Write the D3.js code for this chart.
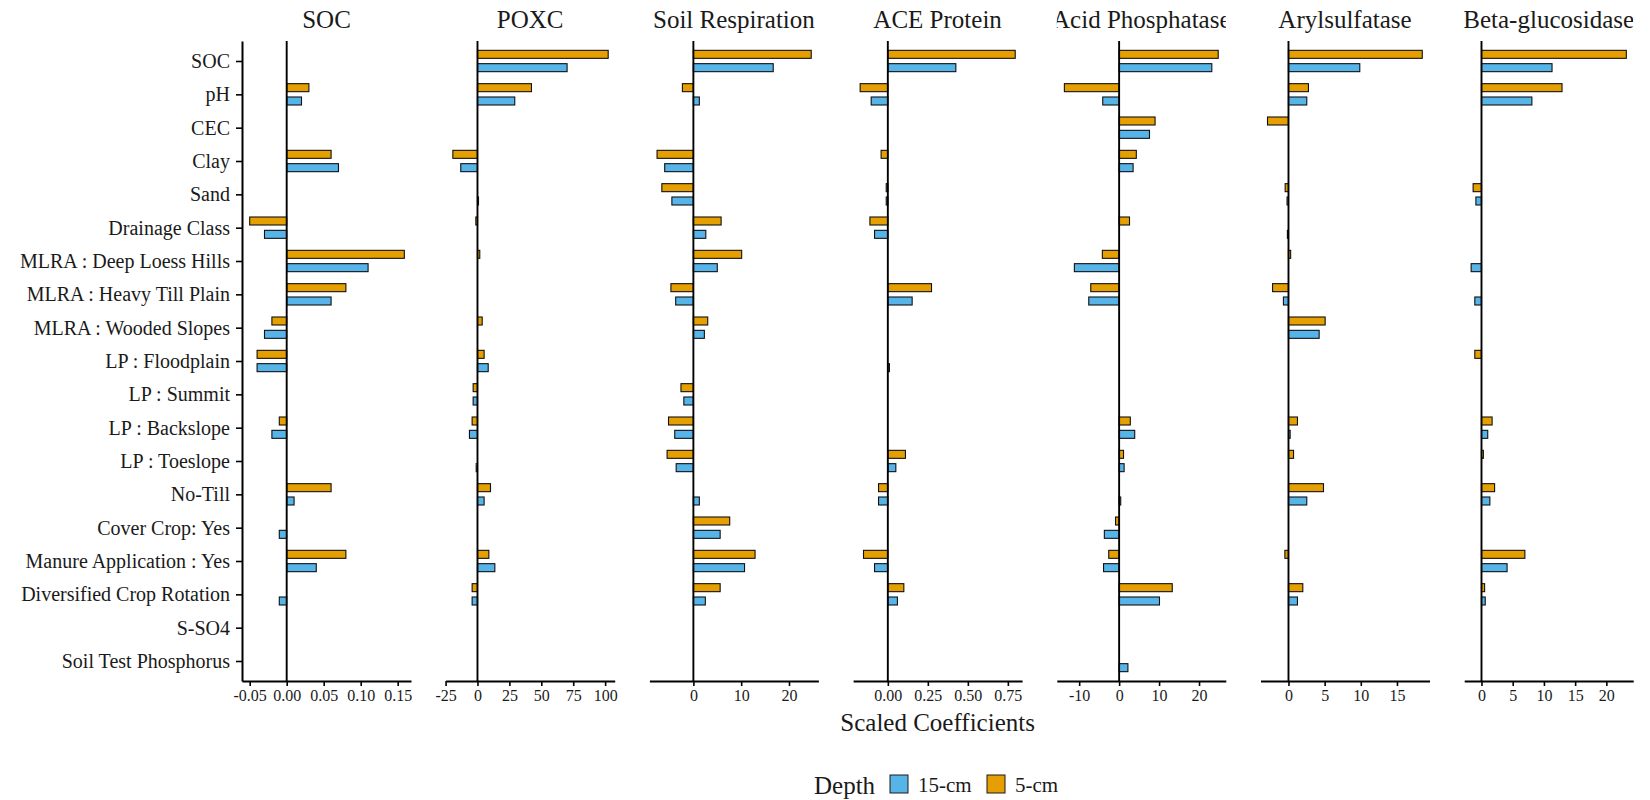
<!DOCTYPE html>
<html>
<head>
<meta charset="utf-8">
<script src="https://cdn.jsdelivr.net/npm/d3@7"></script>
<style>
  body { margin: 0; background: #fff; }
  text { font-family: "Liberation Serif", "Times New Roman", serif; fill: #1a1a1a; }
</style>
</head>
<body>
<svg id="chart" width="1650" height="800"></svg>
<script>
// predictors, top to bottom
var predictors = ["SOC", "pH", "CEC", "Clay", "Sand", "Drainage Class",
  "MLRA : Deep Loess Hills", "MLRA : Heavy Till Plain", "MLRA : Wooded Slopes",
  "LP : Floodplain", "LP : Summit", "LP : Backslope", "LP : Toeslope", "No-Till",
  "Cover Crop: Yes", "Manure Application : Yes", "Diversified Crop Rotation",
  "S-SO4", "Soil Test Phosphorus"];

var responses = ["SOC", "POXC", "Soil Respiration", "ACE Protein", "Acid Phosphatase", "Arylsulfatase", "Beta-glucosidase"];
var depths = ["15-cm", "5-cm"];

// coefficients, one array per response and depth (null = not in model)
var soc5  = [null, 0.03, null, 0.06, null, -0.05, 0.159, 0.08, -0.02, -0.04, null, -0.01, null, 0.06, null, 0.08, null, null, null];
var soc15 = [null, 0.02, null, 0.07, null, -0.03, 0.11, 0.06, -0.03, -0.04, null, -0.02, null, 0.01, -0.01, 0.04, -0.01, null, null];

var poxc5  = [102.4, 42.3, null, -19.3, null, -1.3, 1.8, null, 3.7, 5.2, -3.4, -4.2, null, 10.2, null, 8.9, -4.2, null, null];
var poxc15 = [70.2, 29.2, null, -13.1, 0.8, null, null, null, null, 8.4, -3.4, -6.3, -1, 5.2, null, 13.6, -4.2, null, null];

var resp5  = [24.65, -2.3, null, -7.6, -6.6, 5.8, 10.1, -4.7, 3.0, null, -2.6, -5.2, -5.5, null, 7.6, 12.9, 5.6, null, null];
var resp15 = [16.7, 1.25, null, -6.0, -4.5, 2.6, 5.0, -3.7, 2.3, null, -2.0, -3.9, -3.6, 1.25, 5.6, 10.7, 2.5, null, null];

var ace5  = [0.796, -0.173, null, -0.042, -0.01, -0.112, null, 0.273, null, null, null, null, 0.11, -0.058, null, -0.152, 0.10, null, null];
var ace15 = [0.425, -0.104, null, null, -0.01, -0.083, null, 0.152, null, 0.01, null, null, 0.05, -0.058, null, -0.083, 0.06, null, null];

var acid5  = [24.8, -13.7, 9.0, 4.3, null, 2.6, -4.2, -7.1, null, null, null, 2.8, 1.1, null, -0.9, -2.6, 13.3, null, null];
var acid15 = [23.2, -4.1, 7.6, 3.5, null, null, -11.2, -7.6, null, null, null, 3.9, 1.25, 0.4, -3.7, -3.9, 10.1, null, 2.2];

var aryl5  = [18.5, 2.76, -2.9, null, -0.46, null, 0.3, -2.2, 5.07, null, null, 1.24, 0.7, 4.84, null, -0.5, 1.98, null, null];
var aryl15 = [9.86, 2.53, null, null, -0.2, -0.15, null, -0.7, 4.24, null, null, 0.23, null, 2.53, null, null, 1.24, null, null];

var beta5  = [23.2, 12.9, null, null, -1.34, null, null, null, null, -1.07, null, 1.7, 0.3, 2.1, null, 6.95, 0.5, null, null];
var beta15 = [11.3, 8.07, null, null, -0.9, null, -1.66, -1.07, null, null, null, 1.0, null, 1.34, null, 4.1, 0.6, null, null];

// x tick labels per panel
var socTicks  = [-0.05, 0, 0.05, 0.10, 0.15];
var poxcTicks = [-25, 0, 25, 50, 75, 100];
var respTicks = [0, 10, 20];
var aceTicks  = [0, 0.25, 0.50, 0.75];
var acidTicks = [-10, 0, 10, 20];
var arylTicks = [0, 5, 10, 15];
var betaTicks = [0, 5, 10, 15, 20];

var shallow = [soc5, poxc5, resp5, ace5, acid5, aryl5, beta5];
var deep = [soc15, poxc15, resp15, ace15, acid15, aryl15, beta15];
var ticks = [socTicks, poxcTicks, respTicks, aceTicks, acidTicks, arylTicks, betaTicks];
var tickDigits = [2, 0, 0, 2, 0, 0, 0];
// free x scale limits of each panel
var limits = [[-0.0604, 0.168], [-24.9, 107.5], [-9.2, 26.15], [-0.217, 0.839], [-15.6, 26.7], [-3.87, 19.5], [-2.77, 24.3]];

var colors = {"15-cm": "#56B4E9", "5-cm": "#E69F00"};

var svg = d3.select("#chart");
var left0 = 242, step = 203.7, panelW = 169, panelTop = 41, panelBottom = 681;

var y = d3.scalePoint().domain(predictors).range([panelTop, panelBottom]).padding(0.6);
var band = y.step();
var barH = band * 0.24;
var dodge = band * 0.2;

// shared y axis on the first panel
var yAxis = svg.append("g")
  .attr("transform", "translate(" + left0 + ",0)")
  .call(d3.axisLeft(y).tickSize(6).tickPadding(6).tickSizeOuter(0));
yAxis.select(".domain").attr("stroke", "#000").attr("stroke-width", 2);
yAxis.selectAll(".tick line").attr("stroke", "#000").attr("stroke-width", 1.6);
yAxis.selectAll(".tick text").attr("font-size", 20).attr("fill", "#1a1a1a")
  .style("font-family", '"Liberation Serif", serif');

responses.forEach(function(name, p) {
  var x0 = left0 + p * step;
  var x = d3.scaleLinear().domain(limits[p]).range([x0, x0 + panelW]);
  var g = svg.append("g");

  // strip title, clipped to panel width
  svg.append("clipPath").attr("id", "clip" + p)
    .append("rect").attr("x", x0).attr("y", 0).attr("width", panelW).attr("height", panelTop);
  g.append("text")
    .attr("clip-path", "url(#clip" + p + ")")
    .attr("x", x0 + panelW / 2).attr("y", 19)
    .attr("text-anchor", "middle").attr("dominant-baseline", "central")
    .attr("font-size", 25)
    .text(name);

  var rows = [];
  predictors.forEach(function(pr, k) {
    if (shallow[p][k] != null) rows.push({pred: pr, depth: "5-cm", v: shallow[p][k]});
    if (deep[p][k] != null) rows.push({pred: pr, depth: "15-cm", v: deep[p][k]});
  });

  g.selectAll("rect.bar")
    .data(rows)
    .enter()
    .append("rect")
    .attr("class", "bar")
    .attr("x", function(d) { return Math.min(x(0), x(d.v)); })
    .attr("width", function(d) { return Math.max(Math.abs(x(d.v) - x(0)), 0.8); })
    .attr("y", function(d) { return y(d.pred) + (d.depth == "5-cm" ? -dodge : dodge) - barH / 2; })
    .attr("height", barH)
    .attr("fill", function(d) { return colors[d.depth]; })
    .attr("stroke", "#111")
    .attr("stroke-width", 1.1);

  // zero line
  g.append("line")
    .attr("x1", x(0)).attr("x2", x(0))
    .attr("y1", panelTop).attr("y2", panelBottom)
    .attr("stroke", "#000").attr("stroke-width", 1.9);

  var fmt = function(v) { return v.toFixed(tickDigits[p]); };
  var xAxis = g.append("g")
    .attr("transform", "translate(0," + panelBottom + ")")
    .call(d3.axisBottom(x).tickValues(ticks[p]).tickFormat(fmt)
      .tickSize(5).tickPadding(4).tickSizeOuter(0));
  xAxis.select(".domain").attr("stroke", "#000").attr("stroke-width", 2);
  xAxis.selectAll(".tick line").attr("stroke", "#000").attr("stroke-width", 1.6);
  xAxis.selectAll(".tick text").attr("font-size", 16).attr("fill", "#1a1a1a")
    .style("font-family", '"Liberation Serif", serif');
});

// axis title
svg.append("text")
  .attr("x", left0 + (6 * step + panelW) / 2).attr("y", 722)
  .attr("text-anchor", "middle").attr("dominant-baseline", "central")
  .attr("font-size", 25)
  .text("Scaled Coefficients");

// legend
var legend = svg.append("g");
legend.append("text")
  .attr("x", 814).attr("y", 785)
  .attr("dominant-baseline", "central")
  .attr("font-size", 25)
  .text("Depth");
var keyX = [890, 987];
depths.forEach(function(dp, k) {
  legend.append("rect")
    .attr("x", keyX[k]).attr("y", 775)
    .attr("width", 18).attr("height", 18)
    .attr("fill", colors[dp]).attr("stroke", "#1a1a1a").attr("stroke-width", 1);
  legend.append("text")
    .attr("x", keyX[k] + 28).attr("y", 785)
    .attr("dominant-baseline", "central")
    .attr("font-size", 21)
    .text(dp);
});
</script>
</body>
</html>
